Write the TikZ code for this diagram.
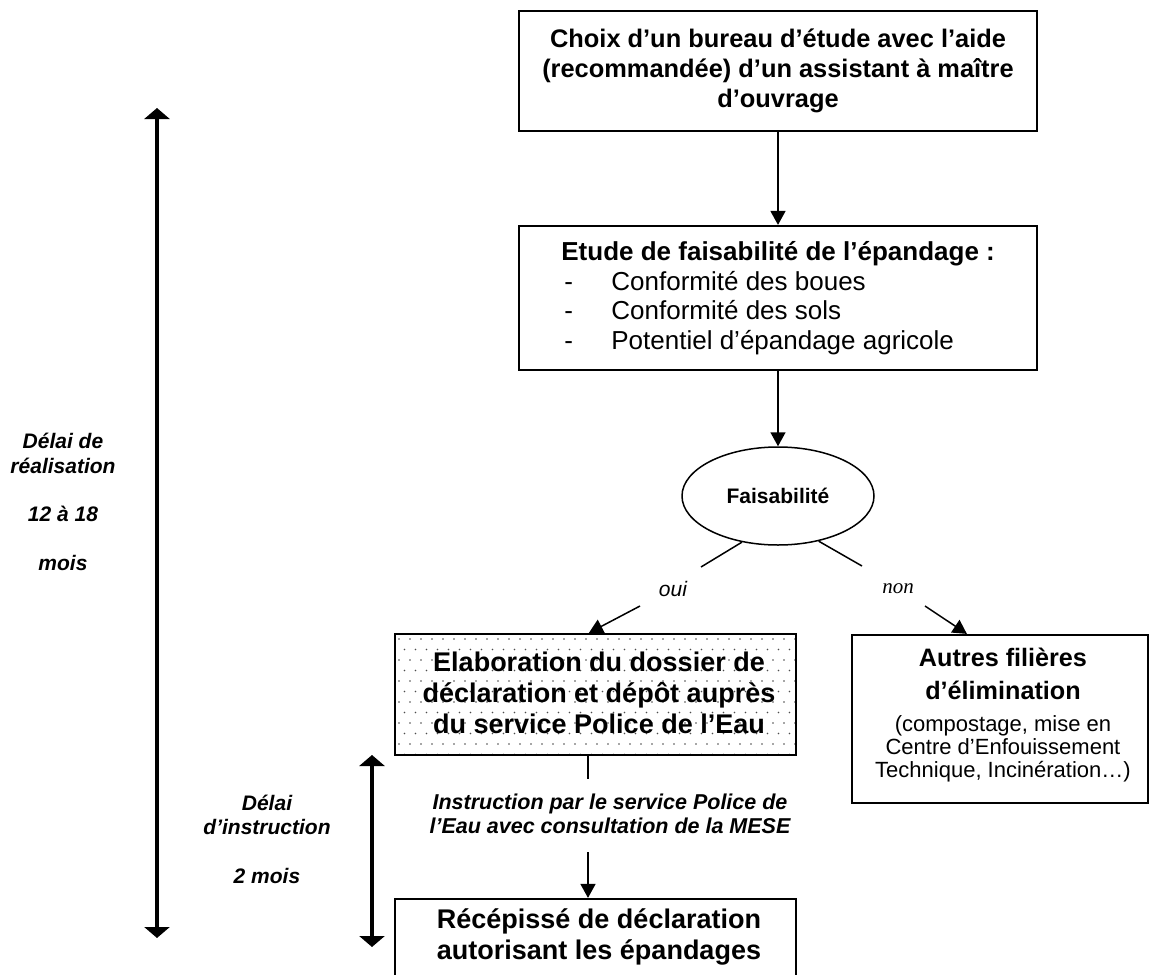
\documentclass[tikz,border=0pt]{standalone}
\usepackage{fontspec}
\setmainfont{Liberation Sans}
\newfontfamily\timesfont{Liberation Serif}
\usetikzlibrary{arrows.meta,shapes.geometric,calc}
\begin{document}
\begin{tikzpicture}[x=0.5pt,y=-0.5pt,
  box/.style={draw,line width=1.1pt,rectangle,inner sep=0pt},
  conn/.style={line width=0.75pt,-{Triangle[width=7.5pt,length=7pt]}},
  plainline/.style={line width=0.75pt},
  dur/.style={line width=1.6pt,{Triangle[width=12.5pt,length=5.5pt]}-{Triangle[width=12.5pt,length=5.5pt]}},
  btxt/.style={font=\fontsize{12.7}{15}\selectfont\bfseries,align=center},
  bigtxt/.style={font=\fontsize{13.5}{15.6}\selectfont\bfseries,align=center},
  sidetxt/.style={font=\fontsize{10.5}{12.2}\selectfont\bfseries\itshape,align=center},
  dotfill/.style={path picture={
      \foreach \i in {0,...,12}{
        \foreach \j in {0,...,38}{
          \fill[black!70] ($(path picture bounding box.north west)+({\j*11+mod(\i,2)*5.5+4},{\i*10.5+5})$) circle[radius=0.4pt];
        }
      }
  }}
]
\useasboundingbox (0,0) rectangle (1152,975);
\clip (0,0) rectangle (1152,975);

% box 1
\node[box,btxt,minimum width=259pt,minimum height=60pt] (b1) at (778,71)
  {Choix d’un bureau d’étude avec l’aide\\(recommandée) d’un assistant à maître\\d’ouvrage};

% box 2
\node[box,minimum width=259pt,minimum height=72pt] (b2) at (778,298) {};
\node[anchor=west,align=left,inner sep=0pt,font=\fontsize{13}{14.8}\selectfont] (t2) at (561,298)
  {\textbf{Etude de faisabilité de l’épandage :}\\
   \makebox[25pt][l]{\hspace{1.5pt}-}Conformité des boues\\
   \makebox[25pt][l]{\hspace{1.5pt}-}Conformité des sols\\
   \makebox[25pt][l]{\hspace{1.5pt}-}Potentiel d’épandage agricole};

% ellipse
\node[draw,ellipse,line width=0.75pt,minimum width=96pt,minimum height=49pt,inner sep=0pt,
      font=\fontsize{10.5}{12}\selectfont\bfseries] (f) at (778,496) {Faisabilité};

\draw[conn] (b1.south) -- (b2.north);
\draw[conn] (b2.south) -- (f.north);

% box 3 (dotted)
\node[box,dotfill,minimum width=200.5pt,minimum height=60.5pt] (b3) at (595.5,694.5) {};
\node[bigtxt,inner sep=0pt] (t3) at (599,693)
  {Elaboration du dossier de\\déclaration et dépôt auprès\\du service Police de l’Eau};

% box 4
\node[box,minimum width=148pt,minimum height=84pt] (b4) at (1000,719) {};
\node[font=\fontsize{12.6}{16.5}\selectfont\bfseries,align=center,inner sep=0pt] (t4a) at (1003,674)
  {Autres filières\\d’élimination};
\node[align=center,font=\fontsize{11}{11.6}\selectfont,inner sep=0pt] (t4b) at (1003,749)
  {(compostage, mise en\\Centre d’Enfouissement\\Technique, Incinération…)};

% branch labels
\node[font=\fontsize{10.5}{12}\selectfont\itshape,inner sep=0pt] (oui) at (673,589) {oui};
\node[font=\timesfont\fontsize{10.5}{12}\selectfont\itshape,inner sep=0pt] (non) at (898,589) {non};
\coordinate (oui1) at (701,567);
\coordinate (oui2) at (640,606);
\coordinate (non1) at (862,566);
\coordinate (non2) at (925,606);
\draw[plainline] (f.-128) -- (oui1);
\draw[conn] (oui2) -- ($(b3.north west)+(195,0)$);
\draw[plainline] (f.-48) -- (non1);
\draw[conn] (non2) -- ($(b4.north west)+(116,0)$);

% instruction
\coordinate (l3a) at (588,755);
\coordinate (l3) at (588,779);
\draw[plainline] (l3a) -- (l3);
\node[font=\fontsize{10.75}{12}\selectfont\bfseries\itshape,align=center,inner sep=0pt] (instr) at (610,814)
  {Instruction par le service Police de\\l’Eau avec consultation de la MESE};

% box 5
\node[box,minimum width=200.5pt,minimum height=51pt] (b5) at (595.5,950) {};
\node[bigtxt,inner sep=0pt] (t5) at (599,937)
  {Récépissé de déclaration\\autorisant les épandages};
\coordinate (a5) at (588,852);
\draw[conn] (a5) -- (b5.north -| a5);

% durations
\coordinate (d1top) at (157,108);
\coordinate (d1bot) at (157,938);
\draw[dur] (d1top) -- (d1bot);
\coordinate (d2top) at (372,755);
\coordinate (d2bot) at (372,947);
\draw[dur] (d2top) -- (d2bot);

\node[sidetxt] (lbl1) at (63,502)
  {Délai de\\réalisation\\\mbox{}\\12 à 18\\\mbox{}\\mois};
\node[sidetxt] (lbl2) at (267,839)
  {Délai\\d’instruction\\\mbox{}\\2 mois};
\end{tikzpicture}
\end{document}
